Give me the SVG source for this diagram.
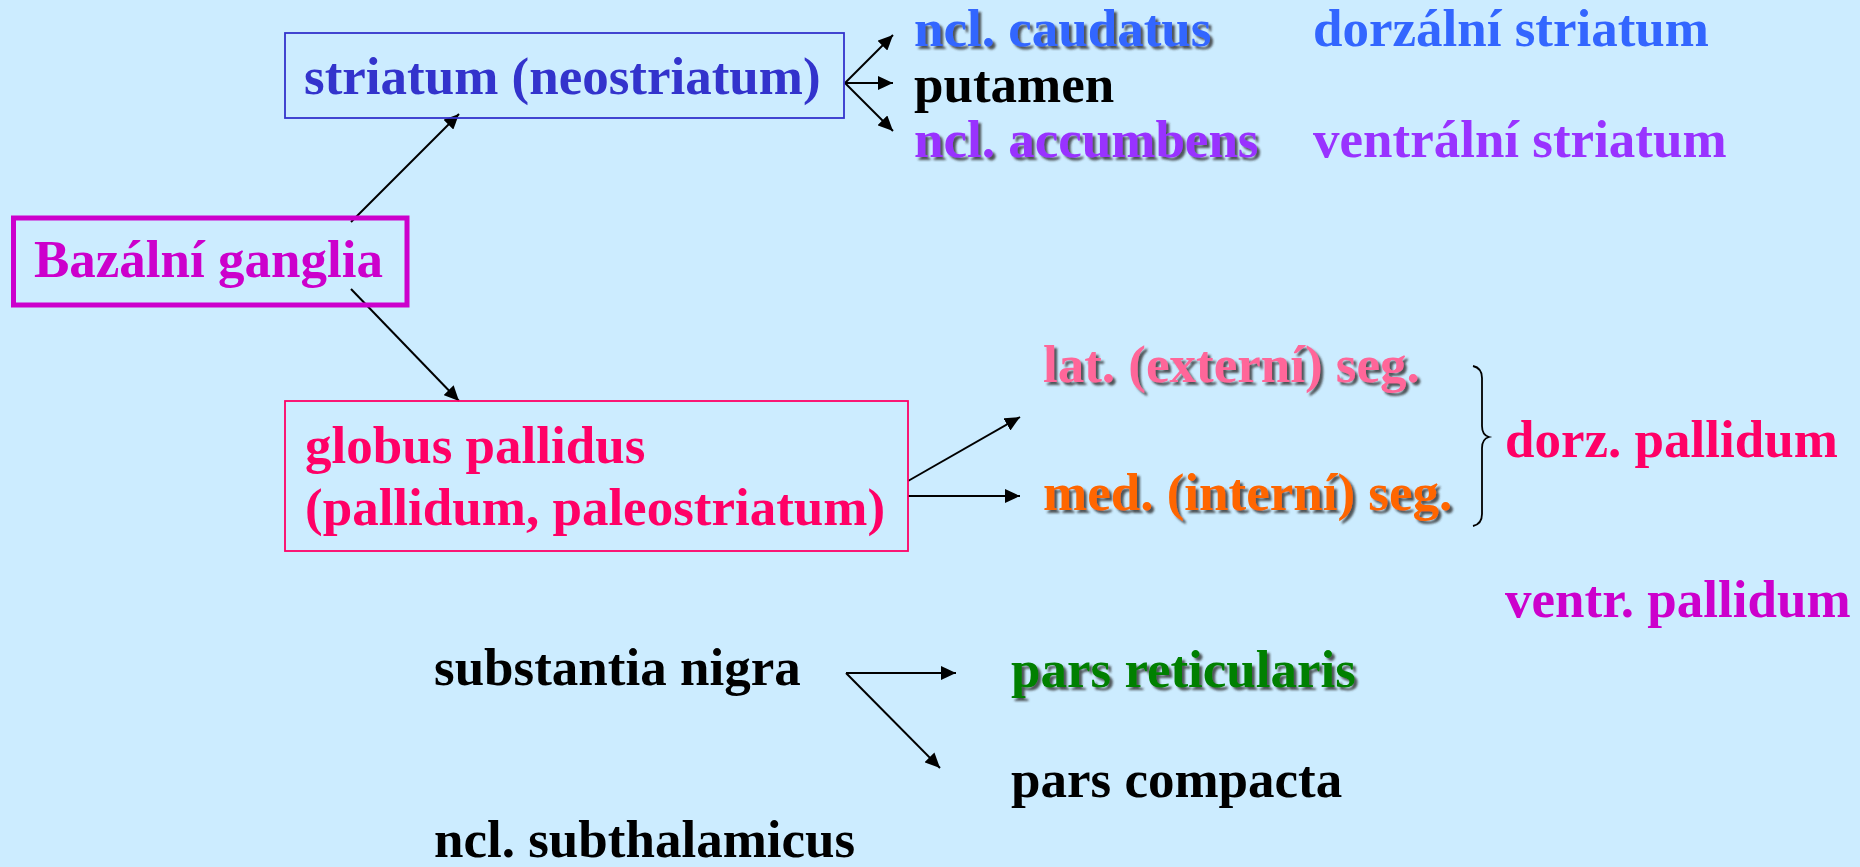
<svg xmlns="http://www.w3.org/2000/svg" width="1860" height="867" viewBox="0 0 1860 867">
<style>
text{font-family:"Liberation Serif","Times New Roman",serif;font-weight:bold;font-size:53px}
.ln{stroke:#000;stroke-width:2;fill:none;marker-end:url(#ah)}
.sh{filter:url(#ds)}
</style>
<defs>
<marker id="ah" markerUnits="userSpaceOnUse" markerWidth="16" markerHeight="14" refX="15" refY="7" orient="auto">
<path d="M0,0 L15,7 L0,14 Z" fill="#000"/>
</marker>
<filter id="ds" x="-5%" y="-20%" width="110%" height="150%">
<feDropShadow dx="3" dy="3" stdDeviation="1.2" flood-color="#333" flood-opacity="0.8"/>
</filter>
</defs>
<rect width="1860" height="867" fill="#CCECFF"/>
<g id="connectors">
<line class="ln" x1="351" y1="222" x2="459" y2="114"/>
<line class="ln" x1="351" y1="289" x2="459" y2="401"/>
<line class="ln" x1="845" y1="83" x2="893" y2="35"/>
<line class="ln" x1="845" y1="83" x2="893" y2="83"/>
<line class="ln" x1="845" y1="83" x2="893" y2="131"/>
<line class="ln" x1="908" y1="481" x2="1020" y2="417"/>
<line class="ln" x1="908" y1="496" x2="1020" y2="496"/>
<line class="ln" x1="846" y1="673" x2="956" y2="673"/>
<line class="ln" x1="846" y1="673" x2="940" y2="768"/>
<path d="M1473,366 Q1482,368 1482,378 L1482,426 Q1482,435 1489,437 Q1482,439 1482,448 L1482,514 Q1482,524 1473,526" stroke="#000" stroke-width="1.8" fill="none"/>
</g>
<g id="bazalni">
<rect x="13.5" y="218" width="393.5" height="87" fill="none" stroke="#CC00CC" stroke-width="5"/>
<text x="34" y="277" fill="#CC00CC">Bazální ganglia</text>
</g>
<g id="striatum">
<rect x="285" y="33" width="559" height="85" fill="none" stroke="#3333CC" stroke-width="1.8"/>
<text x="304" y="94" fill="#3333CC">striatum (neostriatum)</text>
</g>
<g id="caudatus"><text class="sh" x="914" y="46" fill="#3366FF">ncl. caudatus</text></g>
<g id="putamen"><text x="914" y="102" fill="#000">putamen</text></g>
<g id="accumbens"><text class="sh" x="914" y="157" fill="#9933FF">ncl. accumbens</text></g>
<g id="dorz-striatum"><text x="1313" y="46" fill="#3366FF">dorzální striatum</text></g>
<g id="ventr-striatum"><text x="1313" y="157" fill="#9933FF">ventrální striatum</text></g>
<g id="globus">
<rect x="285" y="401" width="623" height="150" fill="none" stroke="#FF0066" stroke-width="1.8"/>
<text x="305" y="463" fill="#FF0066">globus pallidus</text>
<text x="305" y="525" fill="#FF0066">(pallidum, paleostriatum)</text>
</g>
<g id="lat-seg"><text class="sh" x="1043" y="382" fill="#FF6699">lat. (externí) seg.</text></g>
<g id="med-seg"><text class="sh" x="1043" y="510" fill="#FF6600">med. (interní) seg.</text></g>
<g id="dorz-pallidum"><text x="1505" y="457" fill="#FF0066">dorz. pallidum</text></g>
<g id="ventr-pallidum"><text x="1505" y="617" fill="#CC00CC">ventr. pallidum</text></g>
<g id="substantia"><text x="434" y="685" fill="#000">substantia nigra</text></g>
<g id="reticularis"><text class="sh" x="1011" y="687" fill="#008000">pars reticularis</text></g>
<g id="compacta"><text x="1011" y="797" fill="#000">pars compacta</text></g>
<g id="subthalamicus"><text x="434" y="857" fill="#000">ncl. subthalamicus</text></g>
</svg>
